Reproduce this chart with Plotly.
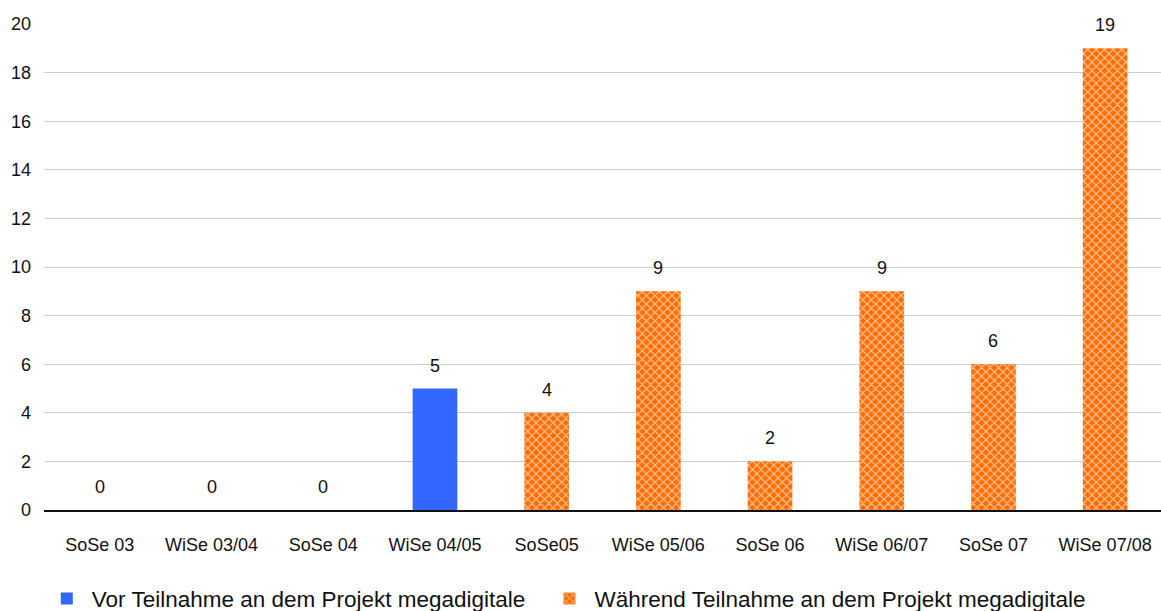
import plotly.graph_objects as go

categories = ["SoSe 03", "WiSe 03/04", "SoSe 04", "WiSe 04/05", "SoSe05",
              "WiSe 05/06", "SoSe 06", "WiSe 06/07", "SoSe 07", "WiSe 07/08"]
vor_values = [0, 0, 0, 5, None, None, None, None, None, None]
waehrend_values = [None, None, None, None, 4, 9, 2, 9, 6, 19]
y_ticks = list(range(0, 21, 2))

FONT = "Arial, Liberation Sans, sans-serif"
BLUE = "#3366FF"
ORANGE = "#FF6D00"

fig = go.Figure()
fig.add_trace(go.Bar(
    x=categories, y=vor_values, name="Vor Teilnahme an dem Projekt megadigitale",
    marker=dict(color=BLUE, line=dict(width=0)), width=0.4, legend="legend",
))
fig.add_trace(go.Bar(
    x=categories, y=waehrend_values, name="Während Teilnahme an dem Projekt megadigitale",
    marker=dict(color=ORANGE, line=dict(width=0),
                pattern=dict(shape="x", fgcolor="#FFC9A3", bgcolor=ORANGE,
                             size=6, solidity=0.35, fillmode="replace")),
    width=0.4, legend="legend2",
))

# value labels above every bar
for cat, v1, v2 in zip(categories, vor_values, waehrend_values):
    v = v1 if v1 is not None else v2
    fig.add_annotation(x=cat, y=v, text=str(v), showarrow=False, yshift=23,
                       font=dict(family=FONT, size=18, color="#111"))

legend_style = dict(orientation="h", xref="container", xanchor="left",
                    y=0.02, yref="container", yanchor="middle",
                    font=dict(family=FONT, size=22.5, color="#111"),
                    itemwidth=40)

fig.update_layout(
    width=1161, height=611,
    margin=dict(l=44, r=0, t=24, b=101, autoexpand=False),
    paper_bgcolor="white", plot_bgcolor="white",
    barmode="overlay", showlegend=True,
    font=dict(family=FONT, size=18, color="#111"),
    legend=dict(x=0.036, **legend_style),
    legend2=dict(x=0.469, **legend_style),
    xaxis=dict(showgrid=False, showline=True, linecolor="#111", linewidth=1.5,
               ticks="", ticklabelstandoff=18, tickfont=dict(size=18)),
    yaxis=dict(range=[0, 20], tickvals=y_ticks, showgrid=True, gridcolor="#CCCCCC",
               gridwidth=1, zeroline=False, showline=False, ticks="",
               ticklabelstandoff=12, tickfont=dict(size=18)),
)

fig.write_html("out.html")
